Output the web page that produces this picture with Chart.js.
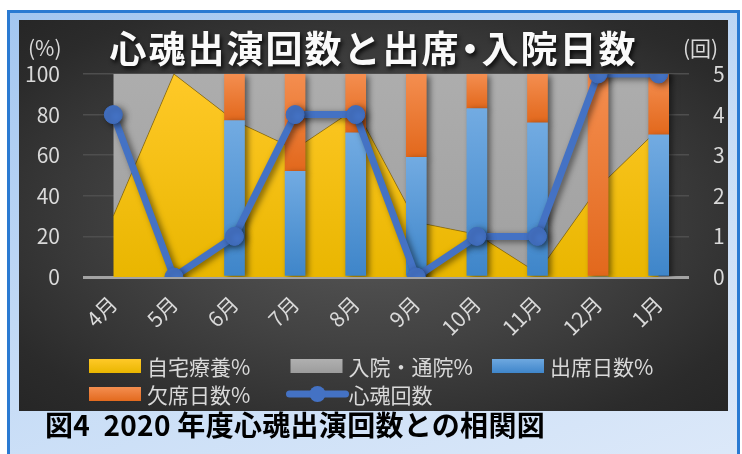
<!DOCTYPE html>
<html lang="ja">
<head>
<meta charset="utf-8">
<script src="https://cdn.jsdelivr.net/npm/chart.js@4.4.1/dist/chart.umd.min.js"></script>
<style>
  html, body { margin: 0; padding: 0; width: 742px; height: 454px; overflow: hidden; background: #fff; }
  body { font-family: "Noto Sans CJK JP", "Noto Sans", sans-serif; position: relative; }
  #frame {
    position: absolute; left: 7px; top: 10px; width: 733px; height: 470px;
    box-sizing: border-box; border: 3px solid #2a7ad2;
    background: linear-gradient(160deg, #a3c6f0 0%, #c6dcf6 50%, #dde9f9 100%);
  }
  #panel {
    position: absolute; left: 19px; top: 20px; width: 709px; height: 391px;
    background: radial-gradient(ellipse at 50% 50%, #5a5a5a 0%, #434343 45%, #2b2b2b 85%, #262626 100%);
  }
  #title {
    position: absolute; left: 19px; top: 29px; width: 709px; text-align: center;
    font-size: 37px; line-height: 37px; font-weight: bold; color: #fafafa; letter-spacing: 2px;
    text-shadow: 2px 3px 4px rgba(0,0,0,0.8);
  }
  #title .dot { margin: 0 -9px; }
  .unit { position: absolute; top: 36px; font-size: 21px; line-height: 22px; color: #d9d9d9; }
  #caption {
    position: absolute; left: 45px; top: 408px; font-size: 28px; line-height: 32px;
    font-weight: bold; color: #000; letter-spacing: 0.3px;
  }
</style>
</head>
<body>
<div id="frame"></div>
<div id="panel"><canvas id="myChart"></canvas></div>
<div id="title">心魂出演回数と出席<span class="dot">・</span>入院日数</div>
<div class="unit" style="left:28px">(%)</div>
<div class="unit" style="left:683px">(回)</div>
<div id="caption">図4&nbsp; 2020 年度心魂出演回数との相関図</div>

<script>
let months = ["4月", "5月", "6月", "7月", "8月", "9月", "10月", "11月", "12月", "1月"];
let homeCare = [30, 100, 77, 63, 83, 27, 21, 2, 44, 73];        // 自宅療養%
let hospital = [70, 0, 23, 37, 17, 73, 79, 98, 56, 27];         // 入院・通院%
let attend = [null, null, 77, 52, 71, 59, 83, 76, 0, 70];       // 出席日数%
let absent = [null, null, 23, 48, 29, 41, 17, 24, 100, 30];     // 欠席日数%
let shows = [4, 0, 1, 4, 4, 0, 1, 1, 5, 5];                     // 心魂回数
let percentTicks = [0, 20, 40, 60, 80, 100];
let countTicks = [0, 1, 2, 3, 4, 5];

// vertical gradient between two pixel rows
function vGrad(ctx, top, bottom, c1, c2) {
    let g = ctx.createLinearGradient(0, top, 0, bottom);
    g.addColorStop(0, c1);
    g.addColorStop(1, c2);
    return g;
}

// gradient over the chart area (for the areas)
function areaFill(c1, c2) {
    return function (context) {
        let chart = context.chart;
        if (!chart.chartArea) return c2;
        return vGrad(chart.ctx, chart.chartArea.top, chart.chartArea.bottom, c1, c2);
    };
}

// gradient over one stacked bar segment
function barFill(c1, c2, base) {
    return function (context) {
        let chart = context.chart;
        let y = chart.scales.y;
        if (!y || !chart.chartArea) return c2;
        let i = context.dataIndex;
        let v = context.dataset.data[i];
        if (v == null) return c2;
        let from = base ? base[i] || 0 : 0;
        let top = y.getPixelForValue(from + v);
        let bottom = y.getPixelForValue(from);
        if (bottom - top < 1) return c2;
        return vGrad(chart.ctx, top, bottom, c1, c2);
    };
}

let shadowPlugin = {
    id: "shadow",
    beforeDatasetDraw(chart, args) {
        let ctx = chart.ctx;
        ctx.save();
        if (args.meta.type === "line" && args.meta.dataset && args.meta.dataset.options.fill) return;
        ctx.shadowColor = "rgba(0,0,0,0.5)";
        ctx.shadowBlur = 6;
        ctx.shadowOffsetX = 3;
        ctx.shadowOffsetY = 2;
    },
    afterDatasetDraw(chart) {
        chart.ctx.restore();
    }
};

// legend laid out in 3 fixed columns like the original
let legendPlugin = {
    id: "gridLegend",
    afterDraw(chart) {
        let ctx = chart.ctx;
        let items = [0, 1, 2, 3, 4];
        ctx.save();
        ctx.font = "21px 'Noto Sans CJK JP'";
        ctx.textBaseline = "middle";
        ctx.fillStyle = "#d9d9d9";
        items.forEach(function (dsIndex, k) {
            let ds = chart.data.datasets[dsIndex];
            let x = 70 + (k % 3) * 201.5;
            let y = 339 + Math.floor(k / 3) * 28;
            if (ds.type === "line" && !ds.fill) {
                ctx.strokeStyle = ds.borderColor;
                ctx.lineWidth = 7;
                ctx.lineCap = "round";
                ctx.beginPath();
                ctx.moveTo(x - 1, y + 7);
                ctx.lineTo(x + 55, y + 7);
                ctx.stroke();
                ctx.fillStyle = ds.borderColor;
                ctx.beginPath();
                ctx.arc(x + 27, y + 7, 8, 0, Math.PI * 2);
                ctx.fill();
            } else {
                ctx.fillStyle = vGrad(ctx, y, y + 14, ds.legendColors[0], ds.legendColors[1]);
                ctx.fillRect(x, y, 52, 14);
            }
            ctx.fillStyle = "#d9d9d9";
            ctx.fillText(ds.label, x + 58, y + 8);
        });
        ctx.restore();
    }
};

let ctxChart = document.getElementById("myChart").getContext("2d");
let myChart = new Chart(ctxChart, {
    data: {
        labels: months,
        datasets: [
            {
                type: "line", label: "自宅療養%", data: homeCare, order: 3, stack: "area", yAxisID: "y",
                fill: "origin", pointRadius: 0, borderWidth: 1, borderColor: "rgba(120,90,0,0.6)", tension: 0,
                backgroundColor: areaFill("#ffc928", "#e9b600"), legendColors: ["#ffc928", "#e9b600"]
            },
            {
                type: "line", label: "入院・通院%", data: hospital, order: 4, stack: "area", yAxisID: "y",
                fill: "-1", pointRadius: 0, borderWidth: 0, tension: 0,
                backgroundColor: areaFill("#adadad", "#a0a0a0"), legendColors: ["#b0b0b0", "#9c9c9c"]
            },
            {
                type: "bar", label: "出席日数%", data: attend, order: 1, stack: "bar", yAxisID: "y",
                barThickness: 20, backgroundColor: barFill("#72abe2", "#3e85c9"), legendColors: ["#6ea8e0", "#3f86cb"]
            },
            {
                type: "bar", label: "欠席日数%", data: absent, order: 2, stack: "bar", yAxisID: "y",
                barThickness: 20, backgroundColor: barFill("#f48e50", "#e2681c", attend), legendColors: ["#f48e50", "#e36a1e"]
            },
            {
                type: "line", label: "心魂回数", data: shows, order: 0, yAxisID: "y1", fill: false,
                borderColor: "#4472c4", borderWidth: 7, tension: 0,
                pointRadius: 9, pointBackgroundColor: "#4472c4", pointBorderColor: "#3f6cbd", pointBorderWidth: 1
            }
        ]
    },
    options: {
        responsive: true,
        maintainAspectRatio: false,
        animation: false,
        layout: { padding: { top: 54, left: 0, right: 0, bottom: 0 } },
        plugins: {
            legend: { display: false },
            title: { display: false },
            tooltip: { enabled: false }
        },
        scales: {
            x: {
                offset: true,
                grid: { display: false },
                border: { display: false },
                ticks: {
                    color: "#d9d9d9", font: { size: 21, family: "Noto Sans CJK JP" },
                    minRotation: 45, maxRotation: 45, autoSkip: false, padding: 6
                },
                afterFit(scale) { scale.height = 134; }
            },
            y: {
                stacked: true, min: 0, max: 100,
                afterBuildTicks(scale) { scale.ticks = percentTicks.map(v => ({ value: v })); },
                grid: {
                    drawTicks: false,
                    color: c => c.tick.value === 0 ? "#a3a3a3" : "#4e4e4e",
                    lineWidth: c => c.tick.value === 0 ? 3 : 1.5
                },
                border: { display: false },
                ticks: { color: "#d9d9d9", font: { size: 21, family: "Noto Sans CJK JP" }, padding: 23 },
                afterFit(scale) { scale.width = 64; }
            },
            y1: {
                position: "right", min: 0, max: 5,
                afterBuildTicks(scale) { scale.ticks = countTicks.map(v => ({ value: v })); },
                grid: { display: false, drawTicks: false },
                border: { display: false },
                ticks: { color: "#d9d9d9", font: { size: 21, family: "Noto Sans CJK JP" }, padding: 24 },
                afterFit(scale) { scale.width = 39; }
            }
        }
    },
    plugins: [shadowPlugin, legendPlugin]
});
</script>
</body>
</html>
